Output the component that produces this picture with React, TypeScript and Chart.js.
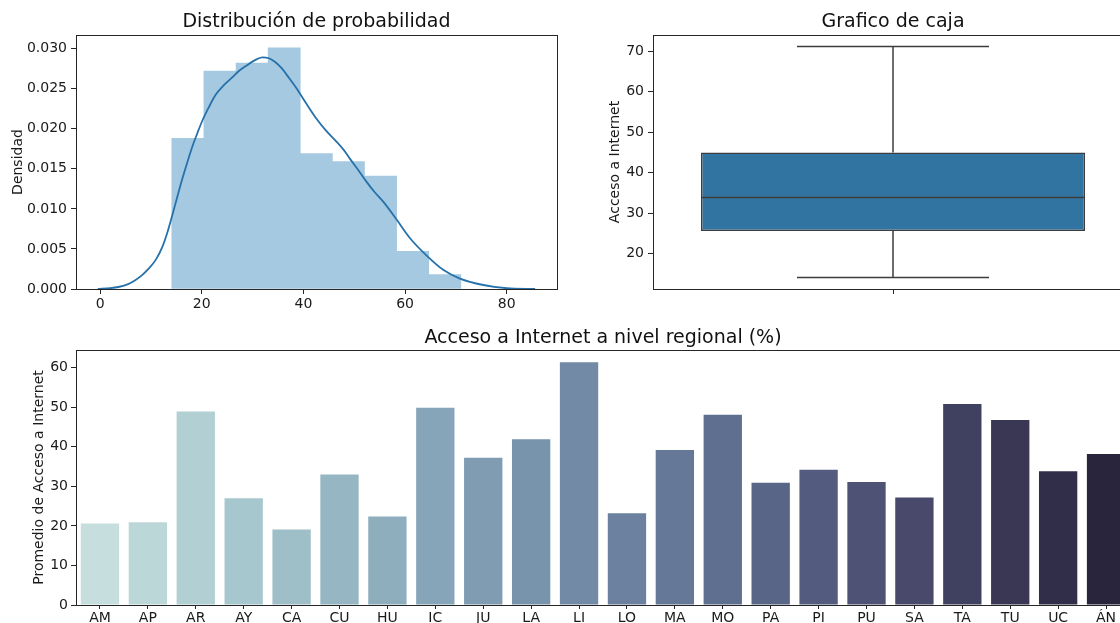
import React, { useEffect, useRef } from "react";
import { Chart, registerables } from "chart.js";

Chart.register(...registerables);

const FONT_FAMILY = "'DejaVu Sans', sans-serif";
const TEXT = "#1a1a1a";
const SPINE = "#262626";

// ---------- Histogram + KDE ----------
const histBinCenters = [17.26, 23.58, 29.9, 36.22, 42.54, 48.86, 55.18, 61.5, 67.82];
const histDensity = [0.0188, 0.0272, 0.0282, 0.0301, 0.0169, 0.0159, 0.0141, 0.0047, 0.0018];
const kdeX = [
  -0.45, 2, 3.6, 5.5, 6.9, 8.2, 9.5, 11, 12.2, 13.2, 14.1, 15.1, 16.1, 17.1, 18.1, 19.1,
  20.1, 21.4, 22.7, 24.3, 26.0, 27.3, 28.6, 30.3, 31.9, 33.2, 34.5, 35.8, 37.1, 38.7, 40.4,
  42.5, 44.4, 46.5, 48, 49.1, 50.5, 52.4, 54, 55.7, 58.3, 60.9, 64.2, 67.5, 70.8, 75.4, 80, 85.6,
];
const kdeY = [
  0, 0.0001, 0.00025, 0.0006, 0.0011, 0.0017, 0.0025, 0.0037, 0.0052, 0.007, 0.009, 0.0113,
  0.0136, 0.0157, 0.0177, 0.0194, 0.021, 0.0227, 0.0242, 0.0254, 0.0264, 0.0272, 0.0278,
  0.0285, 0.0289, 0.0288, 0.0283, 0.0275, 0.0264, 0.0250, 0.0233, 0.0213, 0.0198, 0.0184,
  0.0173, 0.0163, 0.0151, 0.0134, 0.0121, 0.0109, 0.0087, 0.0064, 0.0042, 0.0024, 0.0013,
  0.0005, 0.0001, 0,
];
const histXTicks = [0, 20, 40, 60, 80];
const histYTicks = [0, 0.005, 0.01, 0.015, 0.02, 0.025, 0.03];

// ---------- Box plot ----------
// [min whisker, Q1, median, Q3, max whisker]
const boxValues = [14.1, 25.6, 33.9, 45.0, 71.2];
const boxYTicks = [20, 30, 40, 50, 60, 70];

// ---------- Regional bars ----------
const regions = [
  "AM", "AP", "AR", "AY", "CA", "CU", "HU", "IC", "JU", "LA", "LI",
  "LO", "MA", "MO", "PA", "PI", "PU", "SA", "TA", "TU", "UC", "ÁN",
];
const regionValues = [
  20.6, 20.9, 48.9, 27.0, 19.1, 33.0, 22.4, 49.9, 37.2, 41.9, 61.4,
  23.2, 39.2, 48.1, 30.9, 34.2, 31.1, 27.2, 50.8, 46.8, 33.8, 38.2,
];
const barYTicks = [0, 10, 20, 30, 40, 50, 60];
const regionColors = [
  "#c7dede", "#bcd7d8", "#b2cfd3", "#a7c7ce", "#9ebec8", "#96b6c3", "#8eadbd", "#86a5b8",
  "#7f9cb2", "#7893ac", "#728aa5", "#6b819f", "#657898", "#5f6f90", "#596587", "#535c7f",
  "#4e5375", "#49496b", "#404060", "#393754", "#312e49", "#29253c",
];

const framePlugin = {
  id: "frame",
  afterDraw(chart: any) {
    const { ctx, chartArea: a } = chart;
    ctx.save();
    ctx.strokeStyle = SPINE;
    ctx.lineWidth = 1;
    ctx.strokeRect(Math.round(a.left) + 0.5, Math.round(a.top) + 0.5, Math.round(a.right - a.left), Math.round(a.bottom - a.top));
    ctx.restore();
  },
};

const titlePlugin = {
  id: "figTitle",
  afterDraw(chart: any, _args: any, opts: any) {
    const { ctx, chartArea: a } = chart;
    ctx.save();
    ctx.font = `19px ${FONT_FAMILY}`;
    ctx.fillStyle = "#111";
    ctx.textAlign = "center";
    ctx.textBaseline = "middle";
    ctx.fillText(opts.text, (a.left + a.right) / 2, opts.y);
    ctx.restore();
  },
};

const tickFont = { family: FONT_FAMILY, size: 14 };
const gridTicks = (len: number) => ({
  display: true,
  drawOnChartArea: false,
  drawTicks: true,
  tickLength: len,
  color: SPINE,
  offset: false,
});

function baseOptions(padding: any, title: string, titleY: number) {
  return {
    responsive: false,
    maintainAspectRatio: false,
    animation: false as const,
    events: [] as any[],
    layout: { padding },
    plugins: {
      legend: { display: false },
      tooltip: { enabled: false },
      figTitle: { text: title, y: titleY },
    },
  };
}

function HistChart() {
  const ref = useRef<HTMLCanvasElement>(null);
  useEffect(() => {
    const chart = new Chart(ref.current as HTMLCanvasElement, {
      type: "bar",
      data: {
        datasets: [
          {
            type: "line",
            data: kdeX.map((x, i) => ({ x, y: kdeY[i] })),
            borderColor: "#2671aa",
            borderWidth: 1.8,
            pointRadius: 0,
            fill: false,
            cubicInterpolationMode: "monotone",
            order: 0,
          } as any,
          {
            type: "bar",
            data: histBinCenters.map((x, i) => ({ x, y: histDensity[i] })),
            backgroundColor: "#a5c9e1",
            borderWidth: 0,
            barPercentage: 1,
            categoryPercentage: 1,
            order: 1,
          } as any,
        ],
      },
      options: {
        ...baseOptions({ left: 0, top: 35, right: 13, bottom: 0 }, "Distribución de probabilidad", 22),
        scales: {
          x: {
            type: "linear",
            min: -4.75,
            max: 89.9,
            offset: false,
            grid: gridTicks(5),
            border: { display: false },
            ticks: { font: tickFont, color: TEXT, padding: 2, maxRotation: 0 },
            afterBuildTicks: (s: any) => {
              s.ticks = histXTicks.map((v) => ({ value: v }));
            },
            afterFit: (s: any) => {
              s.height = 31;
            },
          },
          y: {
            type: "linear",
            min: 0,
            max: 0.0317,
            grid: gridTicks(5),
            border: { display: false },
            ticks: {
              font: tickFont,
              color: TEXT,
              padding: 4,
              callback: (v: any) => Number(v).toFixed(3),
            },
            afterBuildTicks: (s: any) => {
              s.ticks = histYTicks.map((v) => ({ value: v }));
            },
            title: {
              display: true,
              text: "Densidad",
              color: TEXT,
              font: tickFont,
              padding: { top: 10, bottom: 0 },
            },
            afterFit: (s: any) => {
              s.width = 76;
            },
          },
        },
      } as any,
      plugins: [framePlugin, titlePlugin],
    });
    return () => chart.destroy();
  }, []);
  return <canvas ref={ref} width={570} height={320} style={{ position: "absolute", left: 0, top: 0 }} />;
}

function BoxChart() {
  const ref = useRef<HTMLCanvasElement>(null);
  useEffect(() => {
    const [bMin, bQ1, bMed, bQ3, bMax] = boxValues;
    const lineStyle = {
      type: "line",
      borderColor: "#3d3d3d",
      borderWidth: 1.5,
      pointRadius: 0,
      fill: false,
      tension: 0,
      order: 0,
    };
    const chart = new Chart(ref.current as HTMLCanvasElement, {
      type: "bar",
      data: {
        datasets: [
          { ...lineStyle, data: [{ x: -0.4, y: bMed }, { x: 0.4, y: bMed }] } as any,
          { ...lineStyle, data: [{ x: 0, y: bQ3 }, { x: 0, y: bMax }] } as any,
          { ...lineStyle, data: [{ x: -0.2, y: bMax }, { x: 0.2, y: bMax }] } as any,
          { ...lineStyle, data: [{ x: 0, y: bQ1 }, { x: 0, y: bMin }] } as any,
          { ...lineStyle, data: [{ x: -0.2, y: bMin }, { x: 0.2, y: bMin }] } as any,
          {
            type: "bar",
            data: [{ x: 0, y: [bQ1, bQ3] }],
            backgroundColor: "#3274a1",
            borderColor: "#3d3d3d",
            borderWidth: 1.5,
            borderSkipped: false,
            barPercentage: 0.8,
            categoryPercentage: 1,
            order: 1,
          } as any,
        ],
      },
      options: {
        ...baseOptions({ left: 0, top: 35, right: 27, bottom: 0 }, "Grafico de caja", 22),
        scales: {
          x: {
            type: "linear",
            min: -0.5,
            max: 0.5,
            offset: false,
            grid: gridTicks(5),
            border: { display: false },
            ticks: { font: tickFont, color: TEXT, padding: 2, callback: () => "" },
            afterBuildTicks: (s: any) => {
              s.ticks = [{ value: 0 }];
            },
            afterFit: (s: any) => {
              s.height = 31;
            },
          },
          y: {
            type: "linear",
            min: 11.24,
            max: 74.06,
            grid: gridTicks(5),
            border: { display: false },
            ticks: { font: tickFont, color: TEXT, padding: 4 },
            afterBuildTicks: (s: any) => {
              s.ticks = boxYTicks.map((v) => ({ value: v }));
            },
            title: {
              display: true,
              text: "Acceso a Internet",
              color: TEXT,
              font: tickFont,
              padding: { top: 6.6, bottom: 0 },
            },
            afterFit: (s: any) => {
              s.width = 53;
            },
          },
        },
      } as any,
      plugins: [framePlugin, titlePlugin],
    });
    return () => chart.destroy();
  }, []);
  return <canvas ref={ref} width={560} height={320} style={{ position: "absolute", left: 600, top: 0 }} />;
}

function RegionChart() {
  const ref = useRef<HTMLCanvasElement>(null);
  useEffect(() => {
    const chart = new Chart(ref.current as HTMLCanvasElement, {
      type: "bar",
      data: {
        labels: regions,
        datasets: [
          {
            data: regionValues,
            backgroundColor: regionColors,
            borderWidth: 0,
            barPercentage: 0.8,
            categoryPercentage: 1,
          },
        ],
      },
      options: {
        ...baseOptions({ left: 0, top: 30, right: 30, bottom: 0 }, "Acceso a Internet a nivel regional (%)", 18),
        scales: {
          x: {
            type: "category",
            offset: true,
            grid: gridTicks(4),
            border: { display: false },
            ticks: { font: tickFont, color: TEXT, padding: 1, autoSkip: false, maxRotation: 0 },
            afterFit: (s: any) => {
              s.height = 18;
            },
          },
          y: {
            type: "linear",
            min: 0,
            max: 64.47,
            grid: gridTicks(5),
            border: { display: false },
            ticks: { font: tickFont, color: TEXT, padding: 3 },
            afterBuildTicks: (s: any) => {
              s.ticks = barYTicks.map((v) => ({ value: v }));
            },
            title: {
              display: true,
              text: "Promedio de Acceso a Internet",
              color: TEXT,
              font: tickFont,
              padding: { top: 31, bottom: 0 },
            },
            afterFit: (s: any) => {
              s.width = 76;
            },
          },
        },
      } as any,
      plugins: [framePlugin, titlePlugin],
    });
    return () => chart.destroy();
  }, []);
  return <canvas ref={ref} width={1160} height={303} style={{ position: "absolute", left: 0, top: 320 }} />;
}

export default function App() {
  return (
    <div
      style={{
        position: "absolute",
        left: 0,
        top: 0,
        width: 1120,
        height: 623,
        overflow: "hidden",
        background: "#ffffff",
      }}
    >
      <HistChart />
      <BoxChart />
      <RegionChart />
    </div>
  );
}
